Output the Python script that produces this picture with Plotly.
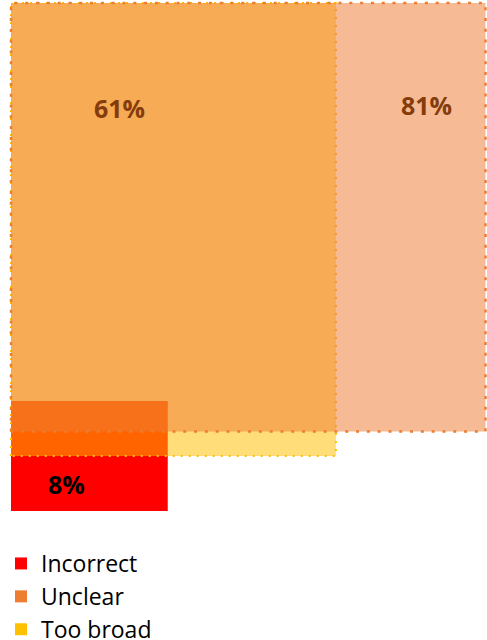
import plotly.graph_objects as go

# ---- data ----
categories = ["Incorrect", "Unclear", "Too broad"]
values = [8, 81, 61]                      # percentages shown as labels
rect_width = [33.0, 99.9, 68.4]           # horizontal extent (chart units, from 0)
rect_low = [0.0, 15.65, 10.83]            # lower edge (chart units)
rect_high = [21.65, 100.0, 100.0]         # upper edge (chart units)
label_x = [11.6, 87.5, 22.9]
label_y = [5.3, 79.9, 79.4]

# ---- styles ----
legend_colors = ["#FF0000", "#ED7D31", "#FFC000"]
fill_colors = ["rgb(255,0,0)", "rgba(237,125,49,0.52)", "rgba(255,192,0,0.52)"]
line_colors = ["rgba(0,0,0,0)", "#ED7D31", "#FFC000"]
line_widths = [0, 2.5, 2]
line_dashes = ["solid", "3px,7.8px", "2px,6px"]
label_colors = ["#000000", "#843C0C", "#843C0C"]
draw_order = [0, 2, 1]  # red at bottom, too broad, unclear on top

fig = go.Figure()

for i in draw_order:
    x0, x1 = 0.0, rect_width[i]
    y0, y1 = rect_low[i], rect_high[i]
    fig.add_trace(go.Scatter(
        x=[x0, x0, x1, x1, x0],
        y=[y0, y1, y1, y0, y0],
        mode="lines",
        fill="toself",
        fillcolor=fill_colors[i],
        line=dict(color=line_colors[i], width=line_widths[i], dash=line_dashes[i]),
        hoverinfo="skip",
        showlegend=False,
    ))

# legend entries
for i, name in enumerate(categories):
    fig.add_trace(go.Bar(
        x=[None], y=[None], name=name,
        marker=dict(color=legend_colors[i], line=dict(width=0)),
        showlegend=True,
    ))

for i, v in enumerate(values):
    fig.add_annotation(
        x=label_x[i], y=label_y[i], text=f"{v}%", showarrow=False,
        font=dict(family="Open Sans", size=25, color=label_colors[i], weight="bold"),
        xanchor="center", yanchor="middle",
    )

fig.update_layout(
    width=487, height=640,
    margin=dict(l=0, r=0, t=0, b=120, autoexpand=False),
    paper_bgcolor="white", plot_bgcolor="white",
    xaxis=dict(type="linear", range=[-11 / 4.75, 476 / 4.75], visible=False, fixedrange=True),
    yaxis=dict(type="linear", range=[-9 / 5.08, 511 / 5.08], visible=False, fixedrange=True),
    showlegend=True,
    legend=dict(
        xref="container", yref="container",
        x=1 / 487, y=1 - 542 / 640, xanchor="left", yanchor="top",
        orientation="v", traceorder="normal",
        font=dict(family="Open Sans", size=23, color="#000000"),
        bgcolor="rgba(0,0,0,0)", borderwidth=0,
    ),
    font=dict(family="Open Sans"),
)

fig.write_html(
    "out.html",
    config={"displayModeBar": False},
    post_script="document.body.style.margin='0';document.body.style.overflow='hidden';",
)
